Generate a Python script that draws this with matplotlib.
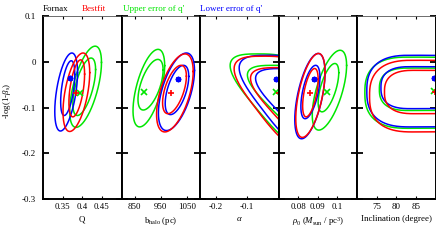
import numpy as np
import matplotlib
matplotlib.use("Agg")
import matplotlib.pyplot as plt

plt.rcParams['font.family'] = ['Liberation Serif', 'DejaVu Serif']
plt.rcParams['mathtext.fontset'] = 'custom'
plt.rcParams['mathtext.rm'] = 'Liberation Serif'
plt.rcParams['mathtext.it'] = 'Liberation Serif:italic'

# ---------------- data ----------------
series_names = ["Bestfit", "Upper error of q'", "Lower error of q'"]
series_colors = ["#ff0000", "#00e600", "#0000ff"]
series_markers = ["+", "x", (8, 2, 0)]

y_ticks = [0.1, 0.0, -0.1, -0.2, -0.3]
y_ticklabels = ["0.1", "0", "-0.1", "-0.2", "-0.3"]

x_labels = ["Q", r"b$_{\mathregular{halo}}$ (pc)", r"$\alpha$",
            r"$\rho_0$ ($M_{\mathregular{sun}}$ / pc$^3$)", "Inclination (degree)"]
x_limits = [(0.3, 0.5), (800, 1100), (-0.25, 0.0), (0.07, 0.11), (70, 90)]
x_ticks = [[0.35, 0.4, 0.45], [850, 950, 1050], [-0.2, -0.1], [0.08, 0.09, 0.1], [75, 80, 85]]
x_ticklabels = [["0.35", "0.4", "0.45"], ["850", "950", "1050"], ["-0.2", "-0.1"],
                ["0.08", "0.09", "0.1"], ["75", "80", "85"]]

# ellipse contours: (xmin, xmax, ymin, ymax, correlation) for [outer, inner]
Q_red = [(0.351, 0.419, -0.152, 0.020, 0.5), (0.366, 0.406, -0.120, 0.005, 0.5)]
Q_green = [(0.368, 0.449, -0.143, 0.035, 0.6), (0.376, 0.434, -0.117, 0.009, 0.6)]
Q_blue = [(0.330, 0.388, -0.151, 0.020, 0.5), (0.345, 0.381, -0.117, 0.003, 0.5)]
b_red = [(934, 1074, -0.153, 0.018, 0.55), (957, 1048, -0.113, -0.007, 0.55)]
b_green = [(844, 965, -0.142, 0.028, 0.58), (863, 959, -0.105, 0.006, 0.58)]
b_blue = [(941, 1079, -0.150, 0.020, 0.55), (967, 1057, -0.115, -0.007, 0.55)]
rho_red = [(0.0788, 0.0937, -0.165, 0.019, 0.55), (0.0823, 0.0902, -0.120, -0.014, 0.55)]
rho_green = [(0.0872, 0.1047, -0.149, 0.026, 0.62), (0.0902, 0.1007, -0.109, -0.003, 0.62)]
rho_blue = [(0.0783, 0.0937, -0.168, 0.019, 0.55), (0.0814, 0.0911, -0.124, -0.007, 0.55)]

# alpha contours (open wedges): (top y, left vertex x, y where edge meets alpha=0)
alpha_red = [(0.013, -0.141, -0.167), (-0.012, -0.089, -0.125)]
alpha_green = [(0.018, -0.154, -0.160), (-0.007, -0.099, -0.118)]
alpha_blue = [(0.015, -0.125, -0.150), (-0.014, -0.073, -0.108)]

# inclination contours (open to the right): (left x, top y, bottom y, cap depth)
inc_red = [(73.2, 0.004, -0.153, 11.0), (77.0, -0.018, -0.113, 7.5)]
inc_green = [(72.0, 0.011, -0.145, 11.0), (75.7, -0.013, -0.106, 7.5)]
inc_blue = [(72.5, 0.015, -0.142, 11.0), (76.1, -0.010, -0.102, 7.5)]

# best-fit points (x, y) per panel for [red, green, blue]
Q_best = [(0.385, -0.067), (0.395, -0.067), (0.368, -0.035)]
b_best = [(990, -0.067), (886, -0.065), (1016, -0.036)]
alpha_best = [(0.003, -0.067), (-0.008, -0.065), (-0.008, -0.036)]
rho_best = [(0.0862, -0.067), (0.0946, -0.065), (0.0879, -0.036)]
inc_best = [(89.8, -0.066), (89.5, -0.063), (89.7, -0.035)]

# ---------------- drawing ----------------
t = np.linspace(0, 2 * np.pi, 600)
LW = 1.1


def draw_ellipse(ax, box, color):
    xmin, xmax, ymin, ymax, r = box
    cx, a = (xmin + xmax) / 2, (xmax - xmin) / 2
    cy, b = (ymin + ymax) / 2, (ymax - ymin) / 2
    x = cx + a * np.cos(t)
    y = cy + b * (r * np.cos(t) + np.sqrt(1 - r * r) * np.sin(t))
    ax.plot(x, y, color=color, lw=LW)


def spow(v, p):
    return np.sign(v) * np.abs(v) ** (2.0 / p)


def draw_wedge(ax, spec, color):
    top, xv, y0 = spec
    p = 3.0
    bottom = -0.22
    cy, ay = (top + bottom) / 2, (top - bottom) / 2
    axx = 0.15
    c = 0.5 ** (1 / p)
    v0 = (y0 - cy) / ay
    kx = (xv - axx * (1 - c)) / (v0 - c)
    cx = axx + kx * v0
    u, v = spow(np.cos(t), p), spow(np.sin(t), p)
    x = cx + axx * u - kx * v
    y = cy + ay * v
    ax.plot(x, y, color=color, lw=LW)


def draw_horseshoe(ax, spec, color):
    left, top, bottom, depth = spec
    p = 2.6
    cy, ay = (top + bottom) / 2, (top - bottom) / 2
    cx = left + depth
    u, v = spow(np.cos(t), p), spow(np.sin(t), p)
    x = np.where(u < 0, cx + depth * u, cx + 40 * u)
    ax.plot(x, cy + ay * v, color=color, lw=LW)


fig = plt.figure(figsize=(4.36, 2.42), dpi=100)
axes = fig.subplots(1, 5, sharey=True, gridspec_kw=dict(wspace=0))
fig.subplots_adjust(left=43 / 436, right=435.5 / 436, bottom=1 - 199 / 242, top=1 - 16.5 / 242)

panels = [
    ("ell", [Q_red, Q_green, Q_blue], Q_best),
    ("ell", [b_red, b_green, b_blue], b_best),
    ("wedge", [alpha_red, alpha_green, alpha_blue], alpha_best),
    ("ell", [rho_red, rho_green, rho_blue], rho_best),
    ("shoe", [inc_red, inc_green, inc_blue], inc_best),
]
draw_order = [1, 2, 0]  # green, blue, red on top

for i, (ax, (kind, contours, best)) in enumerate(zip(axes, panels)):
    for k in draw_order:
        for spec in contours[k]:
            if kind == "ell":
                draw_ellipse(ax, spec, series_colors[k])
            elif kind == "wedge":
                draw_wedge(ax, spec, series_colors[k])
            else:
                draw_horseshoe(ax, spec, series_colors[k])
    for k in draw_order:
        bx, by = best[k]
        ax.plot([bx], [by], linestyle='none', marker=series_markers[k], color=series_colors[k],
                markersize=4.0 if k == 2 else 4.5, markeredgewidth=1.2)
    ax.set_xlim(*x_limits[i])
    ax.set_ylim(-0.3, 0.1)
    ax.set_xticks(x_ticks[i])
    ax.set_xticklabels(x_ticklabels[i], fontsize=6.4)
    ax.set_xlabel(x_labels[i], fontsize=6.4, labelpad=3)
    ax.set_yticks(y_ticks)
    ax.tick_params(axis='y', direction='in', left=True, right=True, length=4, width=1.3, pad=5)
    ax.tick_params(axis='x', direction='in', top=True, bottom=True, length=2.5, width=0.8, pad=3)
    for side in ['left', 'right', 'bottom']:
        ax.spines[side].set_linewidth(1.4)
    ax.spines['top'].set_linewidth(0.6)
    ax.spines['top'].set_color('#555555')
    if i > 0:
        ax.tick_params(axis='y', labelleft=False)

axes[0].set_yticklabels(y_ticklabels, fontsize=6.4)

fig.text(7 / 436, 1 - 101 / 242, r"-log(1-$\beta_{\mathregular{s}}$)", rotation=90,
         fontsize=6.4, ha='center', va='center')

title_texts = ["Fornax"] + series_names
title_colors = ["black"] + series_colors
title_x = [43, 82, 123, 200]
for txt, col, xp in zip(title_texts, title_colors, title_x):
    fig.text(xp / 436, 1 - 9 / 242, txt, color=col, fontsize=6.5, ha='left', va='center')

fig.savefig("out.png", dpi=100)
